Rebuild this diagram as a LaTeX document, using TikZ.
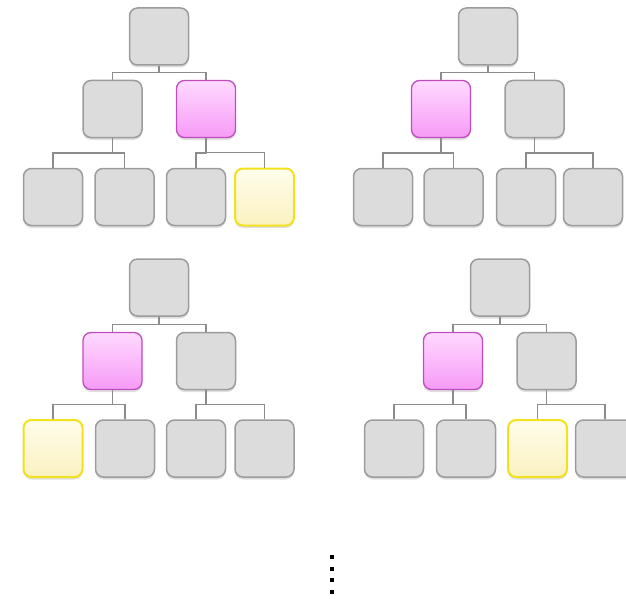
\documentclass[tikz,border=0pt]{standalone}
\usepackage{tikz}
\usetikzlibrary{calc,shadows}
\definecolor{boxgrey}{HTML}{DCDCDC}
\definecolor{boxedge}{HTML}{9C9C9C}
\definecolor{linkgrey}{HTML}{8C8C8C}
\definecolor{pickedge}{HTML}{C04CC0}
\definecolor{picktop}{HTML}{FFDAFF}
\definecolor{pickbot}{HTML}{F69AF6}
\definecolor{hitedge}{HTML}{F2E21E}
\definecolor{hittop}{HTML}{FFFDEC}
\definecolor{hitbot}{HTML}{FBF1C0}
\tikzset{
  box/.style={
    draw=boxedge, fill=boxgrey, rounded corners=8pt, line width=1.5pt,
    minimum width=59pt, minimum height=57pt, inner sep=0pt,
    drop shadow={shadow xshift=0pt, shadow yshift=-2.5pt, opacity=.25},
  },
  pick/.style={box, draw=pickedge, line width=1.3pt, top color=picktop, bottom color=pickbot},
  hit/.style ={box, draw=hitedge, line width=2pt, top color=hittop, bottom color=hitbot},
  link/.style={draw=linkgrey, line width=1.2pt},
  dot/.style ={fill=black, minimum size=4.5pt, inner sep=0pt},
}

\begin{document}
\begin{tikzpicture}[x=1pt, y=-1pt]
\useasboundingbox (0,0) rectangle (626,599);

% ---------------------------------------------------------------- tree 1
\node[box]  (root1) at (159,36.5) {};
\node[box]  (left1) at (112.5,109) {};
\node[pick] (right1) at (206,109) {};
\node[box]  (leaf1a) at (53,197) {};
\node[box]  (leaf1b) at (124.5,197) {};
\node[box]  (leaf1c) at (196,197) {};
\node[hit]  (leaf1d) at (264.5,197) {};

% ---------------------------------------------------------------- tree 2
\node[box]  (root2) at (488,36.5) {};
\node[pick] (left2) at (441,109) {};
\node[box]  (right2) at (534.5,109) {};
\node[box]  (leaf2a) at (383,197) {};
\node[box]  (leaf2b) at (453.5,197) {};
\node[box]  (leaf2c) at (526,197) {};
\node[box]  (leaf2d) at (593,197) {};

% ---------------------------------------------------------------- tree 3
\node[box]  (root3) at (159,287.5) {};
\node[pick] (left3) at (112.5,361) {};
\node[box]  (right3) at (206,361) {};
\node[hit]  (leaf3a) at (53,448.5) {};
\node[box]  (leaf3b) at (125,448.5) {};
\node[box]  (leaf3c) at (196,448.5) {};
\node[box]  (leaf3d) at (264.5,448.5) {};

% ---------------------------------------------------------------- tree 4
\node[box]  (root4) at (500,287.5) {};
\node[pick] (left4) at (453,361) {};
\node[box]  (right4) at (546.5,361) {};
\node[box]  (leaf4a) at (394,448.5) {};
\node[box]  (leaf4b) at (466,448.5) {};
\node[hit]  (leaf4c) at (537.5,448.5) {};
\node[box]  (leaf4d) at (605,448.5) {};

% ---------------------------------------------------------------- links
\foreach \p/\c in {root1/left1, root1/right1, left1/leaf1a, left1/leaf1b, right1/leaf1c, right1/leaf1d,
                   root2/left2, root2/right2, left2/leaf2a, left2/leaf2b, right2/leaf2c, right2/leaf2d,
                   root3/left3, root3/right3, left3/leaf3a, left3/leaf3b, right3/leaf3c, right3/leaf3d,
                   root4/left4, root4/right4, left4/leaf4a, left4/leaf4b, right4/leaf4c, right4/leaf4d}
  \draw[link] (\p.south) |- ($(\p.south)!.5!(\c.north)$) -| (\c.north);

% ---------------------------------------------------------------- more
\foreach \y [count=\i] in {557,569,580,592}
  \node[dot] (more\i) at (332,\y) {};

\end{tikzpicture}
\end{document}
